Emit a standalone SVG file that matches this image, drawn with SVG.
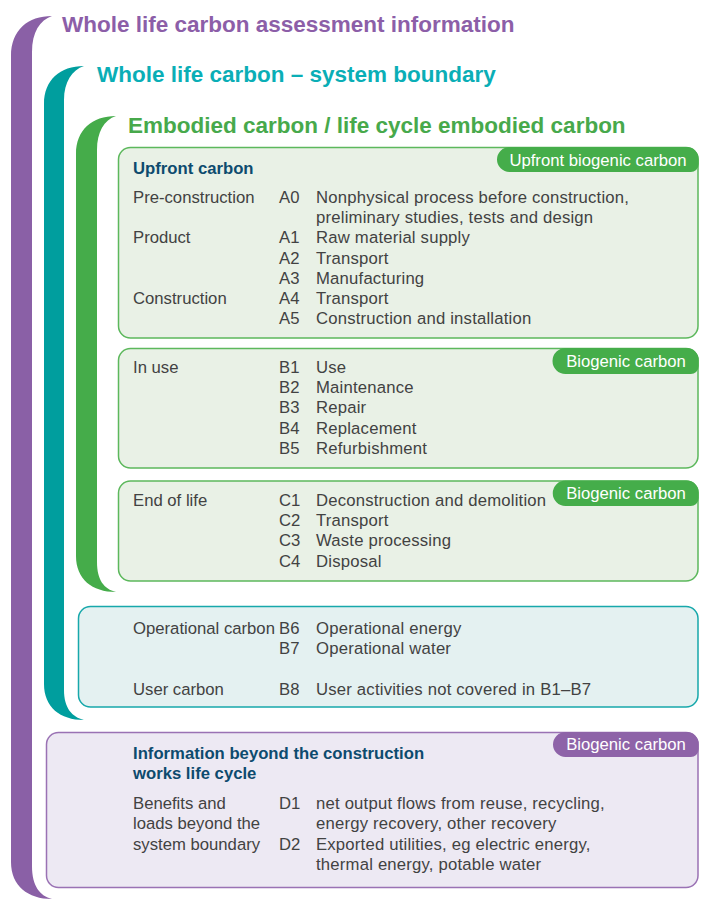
<svg xmlns="http://www.w3.org/2000/svg" width="712" height="904" viewBox="0 0 712 904">
<style>
.t{font-family:"Liberation Sans",Arial,sans-serif;font-size:16.7px;fill:#424242}
.d{letter-spacing:0.2px}
.h{font-family:"Liberation Sans",Arial,sans-serif;font-size:16.7px;font-weight:bold;fill:#0d4b6e}
.title{font-family:"Liberation Sans",Arial,sans-serif;font-size:22.5px;font-weight:bold}
.bt{font-family:"Liberation Sans",Arial,sans-serif;font-size:16.7px;fill:#ffffff;text-anchor:middle}
.pg{fill:#e9f1e6;stroke:#5cb85c;stroke-width:1.5}
.pt{fill:#e4f1f1;stroke:#17a8ab;stroke-width:1.5}
.pp{fill:#ede9f3;stroke:#9a72b4;stroke-width:1.5}
</style>
<rect width="712" height="904" fill="#ffffff"/>
<g id="brackets">
<path d="M 52 16 C 28 16, 11 30, 11 56 L 11 862 C 11 886, 28 899, 52 899 C 40 896, 32 886, 32 866 L 32 52 C 32 32, 40 20, 52 16 Z" fill="#8a60a6"/>
<path d="M 84 66 C 60 66, 44 80, 44 104 L 44 684 C 44 707, 60 720, 84 720 C 72 717, 64 708, 64 690 L 64 100 C 64 82, 72 70, 84 66 Z" fill="#009e9e"/>
<path d="M 116 116 C 92 116, 76 130, 76 154 L 76 556 C 76 579, 92 592, 116 592 C 104 589, 97 580, 97 562 L 97 150 C 97 132, 104 120, 116 116 Z" fill="#45ac4a"/>
</g>
<g id="titles">
<text class="title" x="62" y="32" fill="#8c5ea8">Whole life carbon assessment information</text>
<text class="title" x="97" y="82" fill="#0aaeb6">Whole life carbon – system boundary</text>
<text class="title" x="128" y="133" fill="#47a94b">Embodied carbon / life cycle embodied carbon</text>
</g>
<g id="upfront">
<rect class="pg" x="118.5" y="147.5" width="579.5" height="190.5" rx="12"/>
<path d="M 509.5 147 L 686 147 A 12 12 0 0 1 698.75 159 L 698.75 164 A 8 8 0 0 1 690 172 L 509.5 172 A 12.5 12.5 0 0 1 509.5 147 Z" fill="#45ad4a"/>
<text class="bt" x="598" y="166">Upfront biogenic carbon</text>
<text class="h" x="133" y="174">Upfront carbon</text>
<text class="t" x="133" y="203">Pre-construction</text>
<text class="t" x="279" y="203">A0</text>
<text class="t d" x="316" y="203">Nonphysical process before construction,</text>
<text class="t d" x="316" y="223.2">preliminary studies, tests and design</text>
<text class="t" x="133" y="243.4">Product</text>
<text class="t" x="279" y="243.4">A1</text>
<text class="t d" x="316" y="243.4">Raw material supply</text>
<text class="t" x="279" y="263.6">A2</text>
<text class="t d" x="316" y="263.6">Transport</text>
<text class="t" x="279" y="283.8">A3</text>
<text class="t d" x="316" y="283.8">Manufacturing</text>
<text class="t" x="133" y="304">Construction</text>
<text class="t" x="279" y="304">A4</text>
<text class="t d" x="316" y="304">Transport</text>
<text class="t" x="279" y="324.2">A5</text>
<text class="t d" x="316" y="324.2">Construction and installation</text>
</g>
<g id="inuse">
<rect class="pg" x="118.5" y="348.5" width="579.5" height="119.5" rx="12"/>
<path d="M 565.5 348 L 686 348 A 12 12 0 0 1 698.75 360 L 698.75 366 A 8 8 0 0 1 690 374 L 565.5 374 A 13 13 0 0 1 565.5 348 Z" fill="#45ad4a"/>
<text class="bt" x="626" y="367">Biogenic carbon</text>
<text class="t" x="133" y="373">In use</text>
<text class="t" x="279" y="373">B1</text>
<text class="t d" x="316" y="373">Use</text>
<text class="t" x="279" y="393.2">B2</text>
<text class="t d" x="316" y="393.2">Maintenance</text>
<text class="t" x="279" y="413.4">B3</text>
<text class="t d" x="316" y="413.4">Repair</text>
<text class="t" x="279" y="433.6">B4</text>
<text class="t d" x="316" y="433.6">Replacement</text>
<text class="t" x="279" y="453.8">B5</text>
<text class="t d" x="316" y="453.8">Refurbishment</text>
</g>
<g id="endoflife">
<rect class="pg" x="118.5" y="481" width="579.5" height="100" rx="12"/>
<path d="M 565.5 480.5 L 686 480.5 A 12 12 0 0 1 698.75 492.5 L 698.75 498 A 8 8 0 0 1 690 506 L 565.5 506 A 12.75 12.75 0 0 1 565.5 480.5 Z" fill="#45ad4a"/>
<text class="bt" x="626" y="499">Biogenic carbon</text>
<text class="t" x="133" y="506">End of life</text>
<text class="t" x="279" y="506">C1</text>
<text class="t d" x="316" y="506">Deconstruction and demolition</text>
<text class="t" x="279" y="526.2">C2</text>
<text class="t d" x="316" y="526.2">Transport</text>
<text class="t" x="279" y="546.4">C3</text>
<text class="t d" x="316" y="546.4">Waste processing</text>
<text class="t" x="279" y="566.6">C4</text>
<text class="t d" x="316" y="566.6">Disposal</text>
</g>
<g id="operational">
<rect class="pt" x="78.5" y="606.5" width="619.5" height="100.5" rx="12"/>
<text class="t" x="133" y="634">Operational carbon</text>
<text class="t" x="279" y="634">B6</text>
<text class="t d" x="316" y="634">Operational energy</text>
<text class="t" x="279" y="654">B7</text>
<text class="t d" x="316" y="654">Operational water</text>
<text class="t" x="133" y="695">User carbon</text>
<text class="t" x="279" y="695">B8</text>
<text class="t d" x="316" y="695">User activities not covered in B1–B7</text>
</g>
<g id="beyond">
<rect class="pp" x="46.5" y="732.5" width="651.5" height="155" rx="12"/>
<path d="M 565.5 732 L 686 732 A 12 12 0 0 1 698.75 744 L 698.75 749 A 8 8 0 0 1 690 757 L 565.5 757 A 12.5 12.5 0 0 1 565.5 732 Z" fill="#8e63a8"/>
<text class="bt" x="626" y="750">Biogenic carbon</text>
<text class="h" x="133" y="758.5">Information beyond the construction</text>
<text class="h" x="133" y="779">works life cycle</text>
<text class="t" x="133" y="809">Benefits and</text>
<text class="t" x="133" y="829">loads beyond the</text>
<text class="t" x="133" y="849.5">system boundary</text>
<text class="t" x="279" y="809">D1</text>
<text class="t d" x="316" y="809">net output flows from reuse, recycling,</text>
<text class="t d" x="316" y="829">energy recovery, other recovery</text>
<text class="t" x="279" y="849.5">D2</text>
<text class="t d" x="316" y="849.5">Exported utilities, eg electric energy,</text>
<text class="t d" x="316" y="870">thermal energy, potable water</text>
</g>
</svg>
